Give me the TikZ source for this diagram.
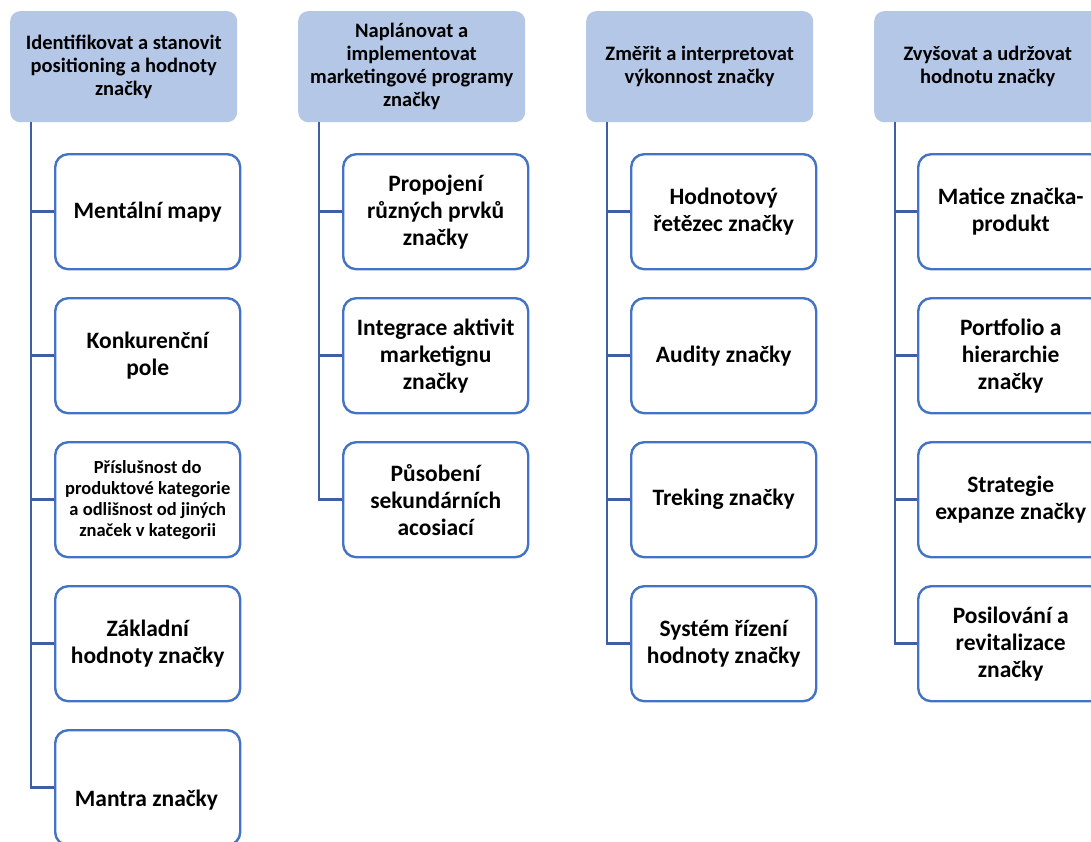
\documentclass[tikz,border=0pt]{standalone}
\usepackage{fontspec}
\setmainfont{Carlito}
\definecolor{hdrfill}{HTML}{B4C7E7}
\definecolor{boxline}{HTML}{4472C4}
\definecolor{conn}{HTML}{3D5FA6}
\begin{document}
\begin{tikzpicture}[x=1pt,y=-1pt,
  hdr/.style={draw=none,fill=hdrfill,rounded corners=10pt,minimum width=227pt,minimum height=111pt,
    inner sep=0pt,anchor=north west,align=center,font=\bfseries\fontsize{20.5}{23}\selectfont},
  child/.style={draw=boxline,line width=2.4pt,fill=white,rounded corners=13pt,minimum width=185pt,minimum height=115pt,
    inner sep=0pt,anchor=north west,align=center,font=\bfseries\fontsize{23.5}{27}\selectfont},
  smallchild/.style={child,font=\bfseries\fontsize{18.5}{21}\selectfont},
  link/.style={draw=conn,line width=2.6pt}]
\useasboundingbox (0,0) rectangle (1091,841);
\clip (0,0) rectangle (1091,841);
% headers
\node[hdr] (h1) at (10,11) {Identifikovat a stanovit\\positioning a hodnoty\\značky};
\node[hdr] (h2) at (298,11) {Naplánovat a\\implementovat\\marketingové programy\\značky};
\node[hdr] (h3) at (586,11) {Změřit a interpretovat\\výkonnost značky};
\node[hdr] (h4) at (874,11) {Zvyšovat a udržovat\\hodnotu značky};
% connector tops
\coordinate (v1) at (31,122);
\coordinate (v2) at (319,122);
\coordinate (v3) at (607,122);
\coordinate (v4) at (895,122);
% column 1
\node[child] (c11) at (54,153) {Mentální mapy};
\node[child] (c12) at (54,297) {Konkurenční\\pole};
\node[smallchild] (c13) at (54,441) {Příslušnost do\\produktové kategorie\\a odlišnost od jiných\\značek v kategorii};
\node[child] (c14) at (54,585) {Základní\\hodnoty značky};
\node[child] (c15) at (54,729) {};
\node[font=\bfseries\fontsize{23.5}{27}\selectfont] (t15) at (146.5,800) {Mantra značky};
% column 2
\node[child] (c21) at (342,153) {Propojení\\různých prvků\\značky};
\node[child] (c22) at (342,297) {Integrace aktivit\\marketignu\\značky};
\node[child] (c23) at (342,441) {Působení\\sekundárních\\acosiací};
% column 3
\node[child] (c31) at (630,153) {Hodnotový\\řetězec značky};
\node[child] (c32) at (630,297) {Audity značky};
\node[child] (c33) at (630,441) {Treking značky};
\node[child] (c34) at (630,585) {Systém řízení\\hodnoty značky};
% column 4
\node[child] (c41) at (917,153) {Matice značka-\\produkt};
\node[child] (c42) at (917,297) {Portfolio a\\hierarchie\\značky};
\node[child] (c43) at (917,441) {Strategie\\expanze značky};
\node[child] (c44) at (917,585) {Posilování a\\revitalizace\\značky};
% connectors
\draw[link] (v1) |- (c15.west);
\foreach \c in {c11,c12,c13,c14}{\draw[link] (\c.west -| v1) -- (\c.west);}
\draw[link] (v2) |- (c23.west);
\foreach \c in {c21,c22}{\draw[link] (\c.west -| v2) -- (\c.west);}
\draw[link] (v3) |- (c34.west);
\foreach \c in {c31,c32,c33}{\draw[link] (\c.west -| v3) -- (\c.west);}
\draw[link] (v4) |- (c44.west);
\foreach \c in {c41,c42,c43}{\draw[link] (\c.west -| v4) -- (\c.west);}
\end{tikzpicture}
\end{document}
